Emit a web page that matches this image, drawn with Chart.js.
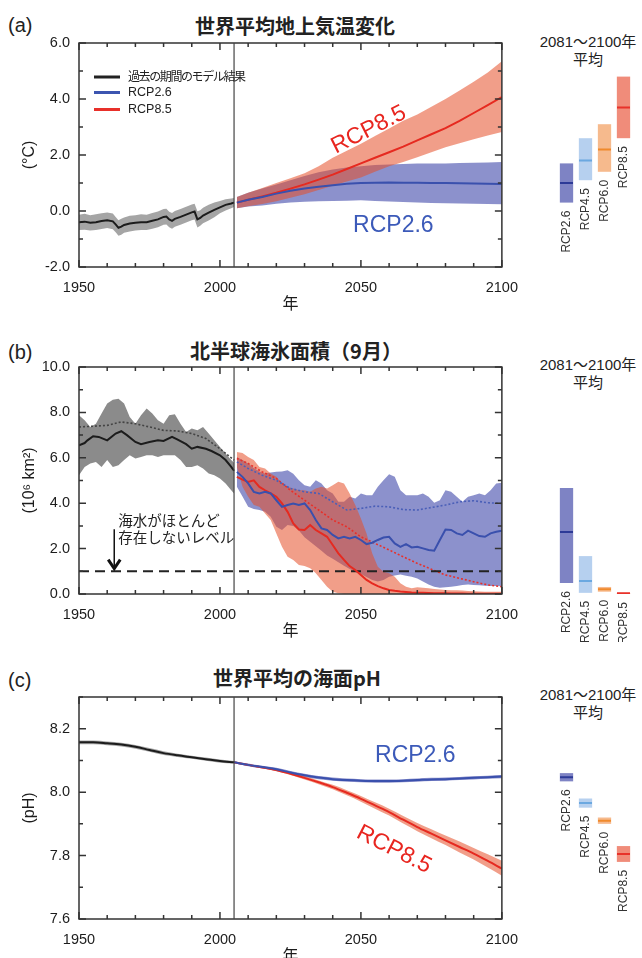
<!DOCTYPE html>
<html lang="ja">
<head>
<meta charset="utf-8">
<title>RCPシナリオによる予測</title>
<script src="https://cdn.jsdelivr.net/npm/chart.js@4.4.1/dist/chart.umd.min.js"></script>
<style>
  body { margin: 0; background: #fff; }
  #page { position: relative; width: 642px; height: 958px; overflow: hidden; color: #222;
          font-family: "Liberation Sans", "Noto Sans CJK JP", sans-serif; }
  canvas { position: absolute; }
  .t { position: absolute; white-space: nowrap; line-height: 1; }
  .title { font: bold 20px "Noto Sans CJK JP", sans-serif; transform: translate(-50%, -50%); }
  .tag { font: 20px "Liberation Sans", sans-serif; transform: translateY(-50%); }
  .side { font: 15px "Liberation Sans", "Noto Sans CJK JP", sans-serif; text-align: center;
          line-height: 18px; transform: translate(-50%, -50%); }
  .lg { position: absolute; left: 94px; font-size: 12.5px; transform: translateY(-50%); white-space: nowrap; }
  .lg i { display: inline-block; width: 26px; height: 3px; margin-right: 8px; vertical-align: middle; }
  .lg span.jp { font-family: "Noto Sans CJK JP", sans-serif; font-size: 12px; letter-spacing: -1.4px; }
</style>
</head>
<body>
<div id="page">
  <div class="t tag" style="left:8px;top:25px">(a)</div>
  <div class="t title" style="left:295px;top:25px">世界平均地上気温変化</div>
  <div class="t side" style="left:588px;top:51px">2081～2100年<br>平均</div>
  <canvas id="mainA" width="530" height="315" style="left:0;top:0"></canvas>
  <canvas id="sideA" width="112" height="315" style="left:530px;top:0"></canvas>
  <div class="lg" style="top:75px"><i style="background:#222"></i><span class="jp">過去の期間のモデル結果</span></div>
  <div class="lg" style="top:92px"><i style="background:#3c55b0"></i>RCP2.6</div>
  <div class="lg" style="top:109px"><i style="background:#e8302a"></i>RCP8.5</div>

  <div class="t tag" style="left:8px;top:352px">(b)</div>
  <div class="t title" style="left:296px;top:350px">北半球海氷面積（9月）</div>
  <div class="t side" style="left:588px;top:374px">2081～2100年<br>平均</div>
  <canvas id="mainB" width="530" height="322" style="left:0;top:320px"></canvas>
  <canvas id="sideB" width="112" height="322" style="left:530px;top:320px"></canvas>

  <div class="t tag" style="left:8px;top:680px">(c)</div>
  <div class="t title" style="left:297px;top:677px">世界平均の海面pH</div>
  <div class="t side" style="left:588px;top:704px">2081～2100年<br>平均</div>
  <canvas id="mainC" width="530" height="317" style="left:0;top:650px"></canvas>
  <canvas id="sideC" width="112" height="317" style="left:530px;top:650px"></canvas>
</div>
<script>
// ---- (a) global mean surface temperature change (°C) ----
const histYearsA = [1950,1952,1954,1956,1958,1960,1962,1963,1964,1965,1966,1968,1970,1972,1974,1976,1978,1980,1981,1982,1983,1984,1986,1988,1990,1991,1992,1993,1994,1996,1998,2000,2002,2004,2005];
const tempHist   = [-0.40,-0.38,-0.42,-0.40,-0.36,-0.33,-0.37,-0.48,-0.60,-0.56,-0.50,-0.45,-0.42,-0.40,-0.40,-0.35,-0.30,-0.21,-0.20,-0.30,-0.35,-0.28,-0.21,-0.13,-0.05,-0.02,-0.30,-0.25,-0.16,-0.06,0.04,0.13,0.22,0.27,0.30];
const tempHistHi = [-0.13,-0.10,-0.15,-0.12,-0.08,-0.05,-0.09,-0.21,-0.33,-0.28,-0.23,-0.17,-0.15,-0.12,-0.13,-0.07,-0.02,0.07,0.08,-0.03,-0.07,0.00,0.07,0.15,0.23,0.26,-0.01,0.03,0.12,0.22,0.30,0.36,0.42,0.45,0.46];
const tempHistLo = [-0.68,-0.67,-0.70,-0.68,-0.64,-0.61,-0.65,-0.76,-0.88,-0.85,-0.78,-0.73,-0.70,-0.68,-0.68,-0.63,-0.58,-0.49,-0.48,-0.58,-0.63,-0.56,-0.49,-0.41,-0.33,-0.30,-0.59,-0.53,-0.44,-0.34,-0.22,-0.08,0.02,0.10,0.14];
const futYearsA  = [2006,2010,2015,2020,2025,2030,2035,2040,2045,2050,2055,2060,2065,2070,2075,2080,2085,2090,2095,2100];
const temp26     = [0.30,0.40,0.50,0.62,0.72,0.80,0.87,0.92,0.97,1.00,1.01,1.02,1.01,1.01,1.00,1.00,0.99,0.98,0.97,0.96];
const temp26Hi   = [0.50,0.65,0.80,0.95,1.10,1.25,1.38,1.48,1.55,1.60,1.64,1.66,1.68,1.70,1.70,1.70,1.71,1.72,1.73,1.75];
const temp26Lo   = [0.10,0.16,0.20,0.26,0.30,0.33,0.35,0.36,0.37,0.38,0.36,0.34,0.32,0.30,0.29,0.28,0.27,0.26,0.25,0.24];
const temp85     = [0.30,0.40,0.52,0.65,0.80,0.95,1.12,1.30,1.50,1.70,1.90,2.10,2.30,2.52,2.74,2.96,3.22,3.50,3.78,4.07];
const temp85Hi   = [0.50,0.65,0.82,1.00,1.17,1.35,1.60,1.90,2.15,2.40,2.68,2.95,3.22,3.45,3.72,4.00,4.30,4.62,4.95,5.35];
const temp85Lo   = [0.10,0.17,0.25,0.35,0.47,0.60,0.75,0.90,1.05,1.20,1.40,1.60,1.75,1.92,2.10,2.28,2.42,2.56,2.70,2.82];

// ---- (b) NH September sea ice extent (10^6 km2) ----
const histYearsB = [1950,1952,1953,1955,1957,1960,1963,1965,1967,1970,1972,1975,1978,1980,1983,1985,1988,1990,1992,1995,1997,2000,2002,2004,2005];
const iceHist    = [6.55,6.65,6.77,6.95,6.92,6.77,7.07,7.17,7.00,6.70,6.60,6.70,6.77,6.74,6.92,6.80,6.60,6.40,6.48,6.40,6.30,6.11,5.90,5.60,5.43];
const obsYearsB  = [1950,1955,1960,1965,1970,1975,1980,1985,1990,1995,2000,2005];
const iceHistSub = [7.36,7.39,7.43,7.58,7.50,7.36,7.21,7.18,7.07,6.85,6.40,5.90];
const bandYearsB = [1950,1952,1954,1956,1958,1960,1962,1964,1966,1968,1970,1972,1974,1976,1978,1980,1982,1984,1986,1988,1990,1992,1994,1996,1998,2000,2002,2004,2005];
const iceHistHi  = [7.87,7.65,7.36,7.50,7.95,8.39,8.56,8.60,8.39,7.80,7.50,7.87,8.17,7.95,7.65,7.50,7.87,7.92,7.50,7.14,7.29,7.21,7.36,7.07,6.77,6.48,6.19,5.90,5.78];
const iceHistLo  = [5.23,5.60,5.75,5.82,5.60,5.90,5.60,5.67,5.90,6.11,5.97,6.04,6.11,6.11,6.04,6.11,6.11,6.11,5.90,5.60,5.60,5.67,5.53,5.31,5.23,5.09,4.87,4.57,4.43];
const futYearsB  = [2006,2008,2010,2012,2014,2016,2018,2020,2022,2024,2026,2028,2030,2032,2034,2036,2038,2040,2042,2044,2046,2048,2050,2052,2054,2056,2058,2060,2062,2064,2066,2068,2070,2072,2074,2076,2078,2080,2082,2084,2086,2088,2090,2092,2094,2096,2098,2100];
const ice26      = [5.38,5.16,4.87,4.50,4.43,4.50,4.43,4.13,3.84,3.92,3.99,3.92,3.99,3.70,3.26,2.89,2.82,2.60,2.45,2.52,2.45,2.52,2.38,2.20,2.26,2.38,2.49,2.52,2.23,2.08,2.20,2.05,2.08,2.01,1.94,1.91,2.38,2.84,2.82,2.67,2.60,2.79,2.67,2.55,2.52,2.67,2.74,2.79];
const ice26Hi    = [6.04,5.90,5.75,5.55,5.40,5.31,5.35,5.38,5.40,5.45,5.30,5.01,4.79,4.72,5.01,4.87,4.57,4.43,4.06,4.06,4.28,4.21,4.43,4.35,4.35,4.72,5.01,5.28,5.16,4.57,4.35,4.35,4.35,4.43,4.28,4.02,4.13,4.57,4.50,4.28,4.06,4.28,4.35,4.43,4.35,4.57,4.87,4.90];
const ice26Lo    = [4.72,4.30,3.84,3.75,3.70,3.62,3.40,2.96,2.82,3.04,3.00,2.80,2.50,2.30,2.10,1.90,1.70,1.55,1.40,1.25,1.10,0.98,0.88,0.75,0.62,0.55,0.62,0.76,0.82,0.86,0.80,0.76,0.68,0.55,0.42,0.32,0.28,0.30,0.32,0.35,0.40,0.42,0.40,0.38,0.36,0.35,0.35,0.34];
const ice85      = [5.16,5.04,4.94,5.01,4.72,4.57,4.43,4.28,3.99,3.62,3.11,2.84,2.82,3.04,2.82,2.67,2.52,2.16,1.79,1.50,1.23,1.06,0.84,0.62,0.47,0.35,0.25,0.18,0.14,0.11,0.09,0.07,0.06,0.05,0.04,0.03,0.03,0.03,0.02,0.02,0.02,0.01,0.01,0.01,0.01,0.01,0.01,0.01];
const ice85Hi    = [6.26,6.21,6.04,5.90,5.60,5.53,5.31,5.16,4.87,4.72,4.65,4.57,4.57,4.50,4.65,4.72,4.65,4.79,4.94,4.87,4.43,3.92,3.33,2.67,1.79,1.20,0.98,0.91,0.76,0.47,0.32,0.25,0.30,0.28,0.25,0.22,0.20,0.18,0.17,0.16,0.15,0.13,0.12,0.11,0.10,0.10,0.10,0.10];
const ice85Lo    = [5.60,4.72,4.28,3.92,3.84,3.55,3.26,2.67,2.08,1.64,1.50,1.28,1.23,1.13,0.91,0.62,0.32,0.10,0.03,0,0,0,0,0,0,0,0,0,0,0,0,0,0,0,0,0,0,0,0,0,0,0,0,0,0,0,0,0];
const subYearsB  = [2006,2010,2015,2020,2025,2030,2035,2040,2045,2050,2055,2060,2065,2070,2075,2080,2085,2090,2095,2100];
const ice26Sub   = [5.82,5.53,5.23,5.01,4.65,4.50,4.43,4.06,3.70,3.77,3.87,3.84,3.72,3.70,3.81,3.92,4.06,4.11,4.02,3.99];
const ice85Sub   = [5.97,5.75,5.38,5.09,4.57,4.13,3.70,3.26,2.96,2.52,2.23,1.94,1.64,1.35,1.09,0.84,0.69,0.54,0.40,0.32];
const iceFreeLevel = 1.0;

// ---- (c) global mean ocean surface pH ----
const histYearsC = [1950,1955,1960,1965,1970,1975,1980,1985,1990,1995,2000,2005];
const phHist     = [8.157,8.157,8.154,8.150,8.143,8.133,8.123,8.116,8.110,8.104,8.098,8.094];
const phHistHi   = [8.163,8.163,8.160,8.156,8.149,8.139,8.129,8.121,8.115,8.109,8.103,8.098];
const phHistLo   = [8.151,8.151,8.148,8.144,8.137,8.127,8.117,8.111,8.105,8.099,8.093,8.090];
const futYearsC  = [2005,2010,2015,2020,2025,2030,2035,2040,2045,2050,2055,2060,2065,2070,2075,2080,2085,2090,2095,2100];
const ph26       = [8.094,8.086,8.079,8.072,8.062,8.053,8.046,8.041,8.038,8.036,8.035,8.035,8.036,8.038,8.040,8.041,8.043,8.045,8.047,8.049];
const ph26Hi     = [8.097,8.090,8.083,8.077,8.067,8.058,8.051,8.046,8.043,8.041,8.040,8.040,8.041,8.043,8.045,8.046,8.048,8.050,8.052,8.054];
const ph26Lo     = [8.091,8.082,8.075,8.067,8.057,8.048,8.041,8.036,8.033,8.031,8.030,8.030,8.031,8.033,8.035,8.036,8.038,8.040,8.042,8.044];
const ph85       = [8.094,8.086,8.078,8.070,8.058,8.045,8.031,8.016,7.998,7.979,7.958,7.937,7.913,7.890,7.869,7.848,7.827,7.806,7.783,7.759];
const ph85Hi     = [8.096,8.088,8.081,8.073,8.062,8.050,8.037,8.023,8.006,7.988,7.968,7.948,7.925,7.903,7.883,7.863,7.844,7.824,7.804,7.784];
const ph85Lo     = [8.092,8.083,8.075,8.066,8.054,8.040,8.025,8.009,7.990,7.970,7.948,7.926,7.901,7.877,7.855,7.833,7.810,7.788,7.762,7.736];

// ---- 2081-2100 mean, side bars ----
const sideCats = ['RCP2.6', 'RCP4.5', 'RCP6.0', 'RCP8.5'];
const tempEndLo = [0.3, 1.1, 1.4, 2.6];
const tempEndHi = [1.7, 2.6, 3.1, 4.8];
const tempEndMed = [1.0, 1.8, 2.2, 3.7];
const iceEndLo = [0.48, 0.05, 0.10, 0.0];
const iceEndHi = [4.67, 1.67, 0.31, 0.05];
const iceEndMed = [2.73, 0.57, 0.21, 0.03];
const phEndLo = [8.034, 7.951, 7.900, 7.780];
const phEndHi = [8.060, 7.980, 7.920, 7.830];
const phEndMed = [8.047, 7.966, 7.910, 7.805];

const splitYear = 2005;

Chart.defaults.font.family = '"Liberation Sans", "Noto Sans CJK JP", sans-serif';
Chart.defaults.animation = false;

const GRAY_A = 'rgba(110,110,110,0.62)';
const GRAY_B = 'rgba(90,90,90,0.70)';
const BLUE_BAND = 'rgba(70,78,172,0.62)';
const RED_BAND = 'rgba(230,78,40,0.55)';
const BLUE = '#3a50ad';
const RED = '#e62a20';
const BLACK = '#1c1c1c';

const pts = (xs, ys) => xs.map((x, i) => ({ x: x, y: ys[i] }));

function band(xs, hi, lo, color, order) {
    return [
        { data: pts(xs, hi), borderWidth: 0, pointRadius: 0, fill: false, order: order },
        { data: pts(xs, lo), borderWidth: 0, pointRadius: 0, fill: '-1', backgroundColor: color, order: order }
    ];
}

function line(xs, ys, color, width, dash, order) {
    return { data: pts(xs, ys), borderColor: color, borderWidth: width, borderDash: dash || [],
             pointRadius: 0, fill: false, order: order };
}

// frame, inward ticks, 2005 divider and in-plot notes
const frame = {
    id: 'frame',
    afterDraw(chart, args, opts) {
        const { ctx, chartArea: a, scales: { x, y } } = chart;
        ctx.save();
        ctx.strokeStyle = '#333';
        ctx.lineWidth = 1.5;
        ctx.strokeRect(a.left, a.top, a.right - a.left, a.bottom - a.top);
        ctx.beginPath();
        x.ticks.forEach(t => {
            const px = x.getPixelForValue(t.value);
            const len = t.value % 50 === 0 ? 7 : 4;
            ctx.moveTo(px, a.bottom); ctx.lineTo(px, a.bottom - len);
            ctx.moveTo(px, a.top); ctx.lineTo(px, a.top + len);
        });
        y.ticks.forEach(t => {
            const py = y.getPixelForValue(t.value);
            const len = t.label !== '' ? 7 : 4;
            ctx.moveTo(a.left, py); ctx.lineTo(a.left + len, py);
            ctx.moveTo(a.right, py); ctx.lineTo(a.right - len, py);
        });
        ctx.stroke();

        const sx = x.getPixelForValue(opts.split);
        ctx.lineWidth = 1.2;
        ctx.strokeStyle = '#444';
        ctx.beginPath();
        ctx.moveTo(sx, a.top); ctx.lineTo(sx, a.bottom);
        ctx.stroke();

        (opts.notes || []).forEach(n => {
            ctx.save();
            ctx.translate(x.getPixelForValue(n.x), y.getPixelForValue(n.y));
            ctx.rotate((n.rot || 0) * Math.PI / 180);
            ctx.font = n.font;
            ctx.fillStyle = n.color;
            ctx.textAlign = n.align || 'center';
            ctx.textBaseline = 'middle';
            ctx.fillText(n.text, 0, 0);
            ctx.restore();
        });

        if (opts.arrow) {
            const ar = opts.arrow;
            const ax = x.getPixelForValue(ar.x);
            const y0 = y.getPixelForValue(ar.from), y1 = y.getPixelForValue(ar.to);
            ctx.strokeStyle = '#111';
            ctx.lineWidth = 1.5;
            ctx.beginPath();
            ctx.moveTo(ax, y0); ctx.lineTo(ax, y1);
            ctx.stroke();
            ctx.lineWidth = 3;
            ctx.beginPath();
            ctx.moveTo(ax - 6, y1 - 9); ctx.lineTo(ax, y1); ctx.lineTo(ax + 6, y1 - 9);
            ctx.stroke();
        }
        ctx.restore();
    }
};

// rotated scenario names under each side bar
const sideLabels = {
    id: 'sideLabels',
    afterDraw(chart) {
        const ctx = chart.ctx;
        const bars = chart.getDatasetMeta(1).data;
        ctx.save();
        ctx.font = '12px "Liberation Sans", sans-serif';
        ctx.fillStyle = '#333';
        ctx.textAlign = 'right';
        ctx.textBaseline = 'middle';
        bars.forEach((b, i) => {
            const bottom = Math.max(b.y, b.base);
            ctx.save();
            ctx.translate(b.x, bottom + 8);
            ctx.rotate(-Math.PI / 2);
            ctx.fillText(chart.data.labels[i], 0, 0);
            ctx.restore();
        });
        ctx.restore();
    }
};

function mainScales(yMin, yMax, step, isLabel, yTitle) {
    return {
        x: {
            type: 'linear', min: 1950, max: 2100,
            afterFit: s => { s.height = 48; },
            grid: { display: false, drawTicks: false },
            border: { display: false },
            ticks: { stepSize: 10, autoSkip: false, maxRotation: 0, padding: 12, color: BLACK,
                     font: { size: 14.5 }, callback: v => v % 50 === 0 ? String(v) : '' },
            title: { display: true, text: '年', color: BLACK,
                     font: { size: 16, family: '"Noto Sans CJK JP", sans-serif' },
                     padding: { top: 0, bottom: 2 } }
        },
        y: {
            min: yMin, max: yMax,
            afterFit: s => { s.width = 79; },
            grid: { display: false, drawTicks: false },
            border: { display: false },
            ticks: { stepSize: step, autoSkip: false, padding: 9, color: BLACK, font: { size: 14.5 },
                     callback: v => isLabel(v) ? v.toFixed(1) : '' },
            title: { display: true, text: yTitle, color: BLACK, font: { size: 16 },
                     padding: { top: 20, bottom: 0 } }
        }
    };
}

function mainChart(id, padTop, datasets, scales, frameOpts) {
    return new Chart(document.getElementById(id), {
        type: 'line',
        data: { datasets: datasets },
        options: {
            responsive: false,
            layout: { padding: { top: padTop, right: 19, left: 0, bottom: 0 } },
            plugins: { legend: { display: false }, tooltip: { enabled: false }, frame: frameOpts },
            scales: scales
        },
        plugins: [frame]
    });
}

const barColors = ['rgba(112,117,190,0.9)', 'rgba(178,206,238,0.95)', 'rgba(246,182,135,0.95)', 'rgba(238,128,108,0.9)'];
const medColors = ['#2d3a97', '#6ba8e0', '#f08a2c', '#e8322a'];

function sideChart(id, padTop, yMin, yMax, lo, hi, med) {
    return new Chart(document.getElementById(id), {
        type: 'bar',
        data: {
            labels: sideCats,
            datasets: [
                { type: 'line', data: med, showLine: false, pointStyle: 'line', pointRadius: 6.5,
                  pointBorderWidth: 2, pointBorderColor: medColors, order: 0 },
                { data: lo.map((v, i) => [v, hi[i]]), backgroundColor: barColors, borderWidth: 0,
                  borderSkipped: false, barPercentage: 0.7, categoryPercentage: 1, order: 1 }
            ]
        },
        options: {
            responsive: false,
            layout: { padding: { top: padTop, bottom: 48, left: 27, right: 9 } },
            plugins: { legend: { display: false }, tooltip: { enabled: false } },
            scales: { x: { display: false }, y: { display: false, min: yMin, max: yMax } }
        },
        plugins: [sideLabels]
    });
}

const noteFont = '23px "Liberation Sans", sans-serif';

// (a)
mainChart('mainA', 43, [
    line(histYearsA, tempHist, BLACK, 2, null, 0),
    line(futYearsA, temp26, BLUE, 2, null, 0),
    line(futYearsA, temp85, RED, 2, null, 0),
    ...band(histYearsA, tempHistHi, tempHistLo, GRAY_A, 6),
    ...band(futYearsA, temp85Hi, temp85Lo, RED_BAND, 4),
    ...band(futYearsA, temp26Hi, temp26Lo, BLUE_BAND, 5)
], mainScales(-2, 6, 1, v => v % 2 === 0, '(°C)'), {
    split: splitYear,
    notes: [
        { text: 'RCP8.5', x: 2052.8, y: 2.9, rot: -27, color: '#e8251f', font: noteFont },
        { text: 'RCP2.6', x: 2061.5, y: -0.54, color: '#3c5ab9', font: noteFont }
    ]
});
sideChart('sideA', 43, -2, 6, tempEndLo, tempEndHi, tempEndMed);

// (b)
const levelLine = line([1950, 2100], [iceFreeLevel, iceFreeLevel], '#222', 2, [10, 6], 0);
mainChart('mainB', 47, [
    line(histYearsB, iceHist, BLACK, 2, null, 0),
    line(futYearsB, ice26, BLUE, 2, null, 0),
    line(futYearsB, ice85, RED, 2, null, 0),
    line(obsYearsB, iceHistSub, '#444', 1.6, [2, 2], 1),
    line(subYearsB, ice26Sub, '#4a5fb8', 1.6, [2, 2], 1),
    line(subYearsB, ice85Sub, '#e8302a', 1.6, [2, 2], 1),
    levelLine,
    ...band(bandYearsB, iceHistHi, iceHistLo, GRAY_B, 6),
    ...band(futYearsB, ice85Hi, ice85Lo, RED_BAND, 4),
    ...band(futYearsB, ice26Hi, ice26Lo, BLUE_BAND, 5)
], mainScales(0, 10, 1, v => v % 2 === 0, '(10⁶ km²)'), {
    split: splitYear,
    notes: [
        { text: '海水がほとんど', x: 1963.9, y: 3.26, align: 'left', color: '#222',
          font: '14.5px "Noto Sans CJK JP", sans-serif' },
        { text: '存在しないレベル', x: 1963.9, y: 2.47, align: 'left', color: '#222',
          font: '14.5px "Noto Sans CJK JP", sans-serif' }
    ],
    arrow: { x: 1962.5, from: 2.85, to: 1.12 }
});
sideChart('sideB', 47, 0, 10, iceEndLo, iceEndHi, iceEndMed);

// (c)
const smooth = ds => ds.map(d => Object.assign(d, { cubicInterpolationMode: 'monotone' }));
mainChart('mainC', 47, smooth([
    line(histYearsC, phHist, BLACK, 2, null, 0),
    line(futYearsC, ph26, BLUE, 2, null, 0),
    line(futYearsC, ph85, RED, 2, null, 0),
    ...band(histYearsC, phHistHi, phHistLo, GRAY_A, 6),
    ...band(futYearsC, ph85Hi, ph85Lo, RED_BAND, 4),
    ...band(futYearsC, ph26Hi, ph26Lo, BLUE_BAND, 5)
]), mainScales(7.6, 8.3, 0.1, v => Math.round(v * 10) % 2 === 0 && v < 8.25, '(pH)'), {
    split: splitYear,
    notes: [
        { text: 'RCP2.6', x: 2069.3, y: 8.116, color: '#3c5ab9', font: noteFont },
        { text: 'RCP8.5', x: 2061.7, y: 7.819, rot: 27, color: '#e8251f', font: noteFont }
    ]
});
sideChart('sideC', 47, 7.6, 8.3, phEndLo, phEndHi, phEndMed);
</script>
</body>
</html>
